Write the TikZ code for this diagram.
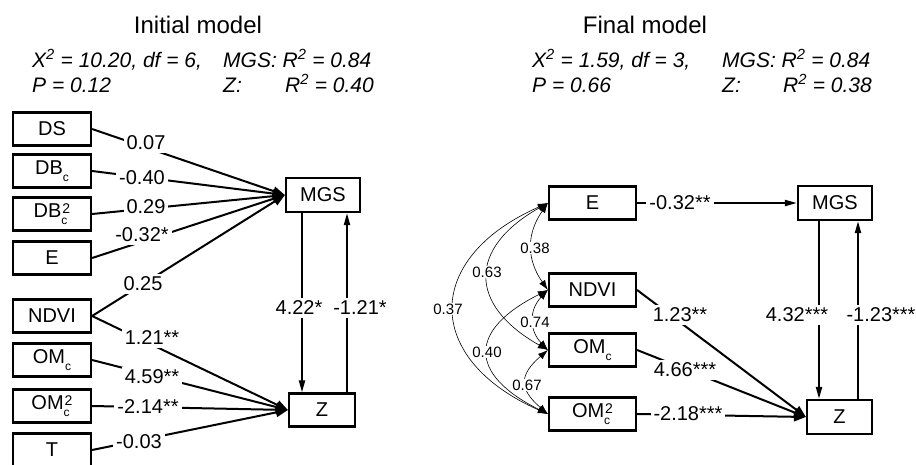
\documentclass[tikz,border=0pt]{standalone}
\usepackage{fontspec}
\setmainfont{Liberation Sans}
\usetikzlibrary{arrows.meta}
\newcommand{\subc}{\raisebox{-6.5pt}{\fontsize{12}{12}\selectfont c}}
\newcommand{\csq}{\rlap{\subc}\raisebox{4.5pt}{\fontsize{14}{14}\selectfont\kern1pt 2}}
\begin{document}
\begin{tikzpicture}[x=1pt,y=-1pt,
  box/.style={draw, line width=2.2pt, inner sep=0pt, font=\fontsize{20}{24}\selectfont},
  lbox/.style={box, minimum width=78pt, minimum height=33pt},
  rbox/.style={box, minimum width=87pt, minimum height=33pt},
  lab/.style={fill=white, inner sep=3pt, font=\fontsize{20}{24}\selectfont},
  slab/.style={fill=white, inner sep=1pt, font=\fontsize{15}{18}\selectfont},
  conn/.style={line width=2pt, -{Triangle[length=12pt,width=9pt]}},
  vconn/.style={line width=2pt, -{Triangle[length=12pt,width=6pt]}},
  corr/.style={line width=0.6pt, {Latex[length=10pt,width=7pt]}-{Latex[length=10pt,width=7pt]}},
  ttl/.style={font=\fontsize{24}{28}\selectfont, anchor=base, inner sep=0pt},
  stat/.style={font=\fontsize{21}{25}\selectfont\itshape, anchor=base west, inner sep=0pt}
]
\useasboundingbox (0,0) rectangle (916,464);

% ---------- Initial model ----------
\node[ttl] (t1) at (198,33) {Initial model};
\node[stat] (s1a) at (32,67) {X\textsuperscript{2} = 10.20, df = 6,};
\node[stat] (s1b) at (32,92) {P = 0.12};
\node[stat] (s1c) at (223,67) {MGS: R\textsuperscript{2} = 0.84};
\node[stat] (s1d) at (223,92) {Z:};
\node[stat] (s1e) at (285,92) {R\textsuperscript{2} = 0.40};

\node[lbox] (DS) at (52,129) {DS};
\node[lbox] (DB) at (52,171) {DB\subc};
\node[lbox] (DBB) at (52,214) {DB\csq};
\node[lbox] (E) at (52,258) {E};
\node[lbox] (N) at (52,316) {NDVI};
\node[lbox] (O) at (52,360) {OM\subc};
\node[lbox] (OO) at (52,406) {OM\csq};
\node[lbox] (T) at (52,450) {T};

\node[box, minimum width=74pt, minimum height=34pt] (MGS) at (323,195) {MGS};
\node[box, minimum width=66pt, minimum height=33pt] (Z) at (322,410) {Z};

\draw[conn] (DS.east) -- (MGS.west);
\draw[conn] (DB.east) -- (MGS.west);
\draw[conn] (DBB.east) -- (MGS.west);
\draw[conn] (E.east) -- (MGS.west);
\draw[conn] (N.east) -- (MGS.west);
\draw[conn] (N.east) -- (Z.west);
\draw[conn] (O.east) -- (Z.west);
\draw[conn] (OO.east) -- (Z.west);
\draw[conn] (T.east) -- (Z.west);

\draw[vconn] ([xshift=-21pt]MGS.south) -- ([xshift=-21pt]MGS.south |- Z.north);
\draw[vconn] ([xshift=24pt]MGS.south |- Z.north) -- ([xshift=24pt]MGS.south);

\node[lab] (l1) at (146,143) {0.07};
\node[lab] (l2) at (142,178) {-0.40};
\node[lab] (l3) at (146,207) {0.29};
\node[lab] (l4) at (142,235) {-0.32*};
\node[lab] (l5) at (143,284) {0.25};
\node[lab] (l6) at (152,338) {1.21**};
\node[lab] (l7) at (152,377) {4.59**};
\node[lab] (l8) at (148,407) {-2.14**};
\node[lab] (l9) at (139,442) {-0.03};
\node[lab] (l10) at (299,308) {4.22*};
\node[lab] (l11) at (360,308) {-1.21*};

% ---------- Final model ----------
\node[ttl] (t2) at (645,33) {Final model};
\node[stat] (s2a) at (532,67) {X\textsuperscript{2} = 1.59, df = 3,};
\node[stat] (s2b) at (532,92) {P = 0.66};
\node[stat] (s2c) at (722,67) {MGS: R\textsuperscript{2} = 0.84};
\node[stat] (s2d) at (722,92) {Z:};
\node[stat] (s2e) at (783,92) {R\textsuperscript{2} = 0.38};

\node[rbox] (E2) at (592.5,203) {E};
\node[rbox] (N2) at (592.5,290) {NDVI};
\node[rbox] (O2) at (592.5,350) {OM\subc};
\node[rbox] (OO2) at (592.5,414) {OM\csq};

\node[box, minimum width=74pt, minimum height=34pt] (MGS2) at (835,203) {MGS};
\node[box, minimum width=65pt, minimum height=34pt] (Z2) at (839.5,417) {Z};

\draw[vconn] (E2.east) -- (MGS2.west);
\draw[conn] (N2.east) -- (Z2.west);
\draw[conn] (O2.east) -- (Z2.west);
\draw[conn] (OO2.east) -- (Z2.west);

\draw[vconn] ([xshift=-16pt]MGS2.south) -- ([xshift=-16pt]MGS2.south |- Z2.north);
\draw[vconn] ([xshift=23pt]MGS2.south |- Z2.north) -- ([xshift=23pt]MGS2.south);

\draw[corr] (E2.west) .. controls +(-21.5,30.7) and +(-21.5,-30.7) .. (N2.west);
\draw[corr] (E2.west) .. controls +(-80,45) and +(-80,-45) .. (O2.west);
\draw[corr] (E2.west) .. controls +(-125,55) and +(-125,-55) .. (OO2.west);
\draw[corr] (N2.west) .. controls +(-19,20) and +(-19,-20) .. (O2.west);
\draw[corr] (N2.west) .. controls +(-80,40) and +(-80,-40) .. (OO2.west);
\draw[corr] (O2.west) .. controls +(-29,25) and +(-29,-25) .. (OO2.west);

\node[slab] (c1) at (535,248) {0.38};
\node[slab] (c2) at (487,272) {0.63};
\node[slab] (c3) at (448,309) {0.37};
\node[slab] (c4) at (535,322) {0.74};
\node[slab] (c5) at (487,352) {0.40};
\node[slab] (c6) at (527,385) {0.67};

\node[lab] (r1) at (680,203) {-0.32**};
\node[lab] (r2) at (680,315) {1.23**};
\node[lab] (r3) at (685,370) {4.66***};
\node[lab] (r4) at (688,414) {-2.18***};
\node[lab] (r5) at (797,315) {4.32***};
\node[lab] (r6) at (881,315) {-1.23***};
\end{tikzpicture}
\end{document}
